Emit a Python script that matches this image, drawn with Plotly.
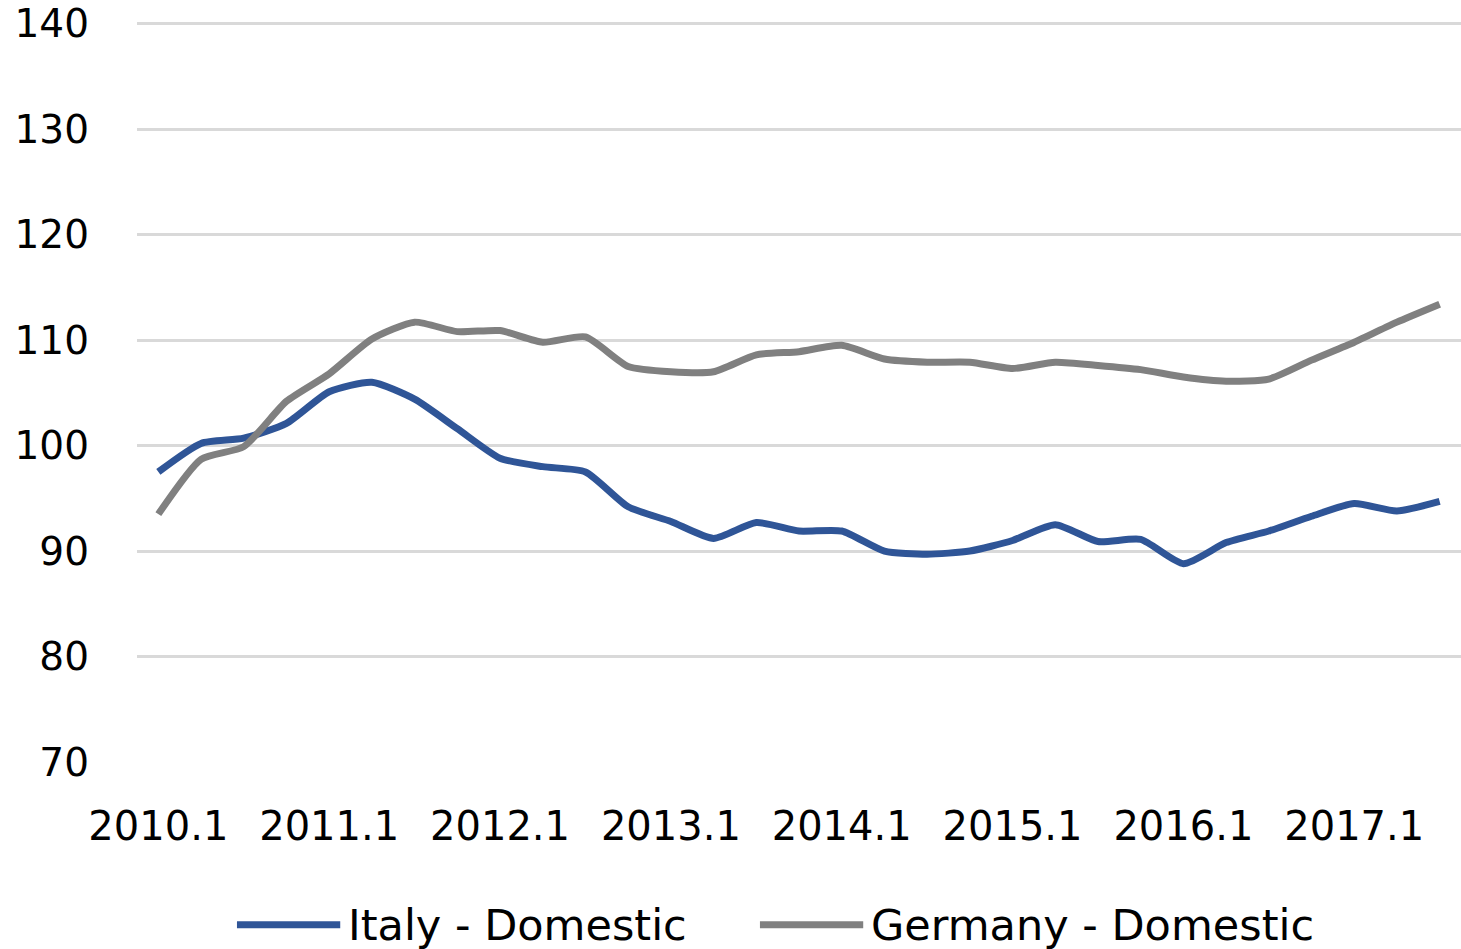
import plotly.graph_objects as go

quarters = [f"{y}.{q}" for y in range(2010, 2018) for q in range(1, 5)][:31]
italy = [97.5, 100.2, 100.7, 102.1, 105.1, 106.0, 104.4, 101.6, 98.8, 98.0, 97.5,
         94.2, 92.8, 91.2, 92.7, 91.9, 91.9, 90.0, 89.7, 90.0, 91.0,
         92.5, 90.9, 91.1, 88.8, 90.8, 91.9, 93.3, 94.5, 93.8, 94.7]
germany = [93.5, 98.7, 99.9, 104.2, 106.8, 110.1, 111.7, 110.8, 110.9, 109.8, 110.3,
           107.5, 107.0, 107.0, 108.6, 108.9, 109.5, 108.2, 107.9, 107.9, 107.3,
           107.9, 107.6, 107.2, 106.5, 106.1, 106.3, 108.1, 109.8, 111.7, 113.4]
tick_labels = [q for q in quarters if q.endswith(".1")]
y_ticks = [70, 80, 90, 100, 110, 120, 130, 140]
series_names = ["Italy - Domestic", "Germany - Domestic"]
colors = ["#2F5597", "#808080"]

FONT = "DejaVu Sans"

fig = go.Figure()
for name, vals, col in zip(series_names, [italy, germany], colors):
    fig.add_trace(go.Scatter(x=quarters, y=vals, name=name, mode="lines",
                             line=dict(color=col, width=7, shape="spline", smoothing=0.6),
                             showlegend=False))

# manual legend (long line samples like the original)
LEG_Y = -0.2195
legend_items = [(0.0755, series_names[0], colors[0]), (0.4705, series_names[1], colors[1])]
for x0, name, col in legend_items:
    fig.add_shape(type="line", xref="paper", yref="paper",
                  x0=x0, x1=x0 + 0.078, y0=LEG_Y, y1=LEG_Y,
                  line=dict(color=col, width=7))
    fig.add_annotation(xref="paper", yref="paper", x=x0 + 0.082, y=LEG_Y,
                       text=name, showarrow=False, xanchor="left", yanchor="middle",
                       font=dict(family=FONT, size=43, color="#000000"))

fig.update_layout(
    width=1461, height=949,
    margin=dict(l=137, r=0, t=21, b=187),
    paper_bgcolor="white", plot_bgcolor="white",
    font=dict(family=FONT, size=40, color="#000000"),
)
fig.update_xaxes(type="category", tickvals=tick_labels, ticktext=tick_labels,
                 showgrid=False, showline=False, zeroline=False, ticks="",
                 range=[-0.5, 30.5], tickangle=0, ticklabelstandoff=37,
                 automargin=False)
fig.update_yaxes(range=[70, 140.25], tickvals=y_ticks, tickfont=dict(size=39),
                 showgrid=True, gridcolor="#D9D9D9",
                 gridwidth=3, zeroline=False, showline=False, ticks="",
                 ticklabelstandoff=47, ticklabeloverflow="allow",
                 automargin=False)

fig.write_html("out.html", config={"displayModeBar": False},
               post_script="document.body.style.margin='0';document.body.style.overflow='hidden';")
